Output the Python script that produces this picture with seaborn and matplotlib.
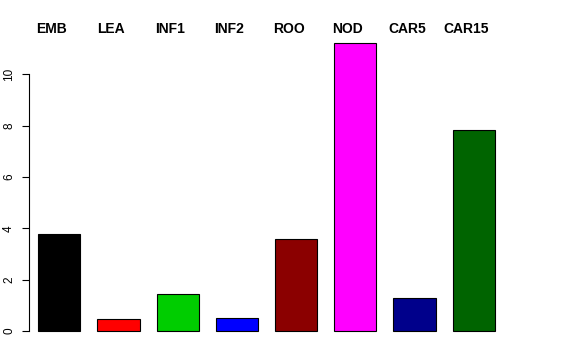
import matplotlib
matplotlib.use("Agg")
import matplotlib.pyplot as plt
import seaborn as sns
import pandas as pd

categories = ["EMB", "LEA", "INF1", "INF2", "ROO", "NOD", "CAR5", "CAR15"]
values = [3.77, 0.47, 1.44, 0.52, 3.60, 11.22, 1.27, 7.82]
colors = ["#000000", "#FF0000", "#00CD00", "#0000FF", "#8B0000", "#FF00FF", "#00008B", "#006400"]
yticks = [0, 2, 4, 6, 8, 10]

df = pd.DataFrame({"cat": categories, "val": values})

plt.rcParams["font.family"] = ["Liberation Sans", "DejaVu Sans"]
fig = plt.figure(figsize=(5.76, 3.6), dpi=100)
W, H = 576, 360
ax = fig.add_axes([29 / W, (H - 342.5) / H, (560 - 29) / W, (342.5 - 31.4) / H])

sns.barplot(data=df, x="cat", y="val", hue="cat", palette=colors, legend=False,
            width=0.71, edgecolor="black", linewidth=0.8, saturation=1, ax=ax)

step = 59.2
ax.set_xlim((29 - 59.3) / step, (560 - 59.3) / step)
ax.set_ylim(-0.449, 11.67)
for s in ["top", "right", "bottom"]:
    ax.spines[s].set_visible(False)
ax.spines["left"].set_bounds(0, 10)
ax.spines["left"].set_linewidth(0.8)
ax.set_xticks([])
ax.set_yticks(yticks)
ax.set_yticklabels([str(t) for t in yticks], rotation=90, va="center", fontsize=8.5)
ax.tick_params(axis="y", length=5, width=0.8, pad=5)
ax.set_xlabel("")
ax.set_ylabel("")

for i, c in enumerate(categories):
    ax.text(i - 0.128, 11.76, c, ha="center", va="center",
            fontsize=10, fontweight="bold", clip_on=False)

fig.savefig("out.png", dpi=100)
